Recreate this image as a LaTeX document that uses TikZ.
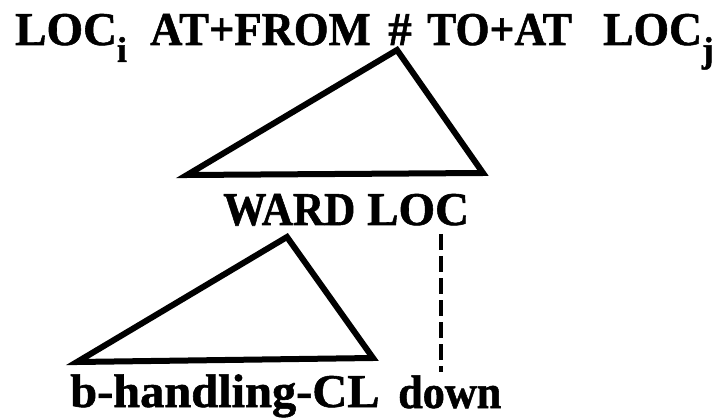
\documentclass[tikz,border=0pt]{standalone}
\usepackage{fontspec}
\setmainfont{Liberation Serif}
\newfontfamily\heavyfont{Liberation Serif Bold}[FakeBold=1.2]
\newcommand{\subsc}[1]{\raisebox{-17pt}{\fontsize{36}{36}\selectfont #1}}
\begin{document}
\begin{tikzpicture}[x=1pt,y=-1pt,
  lab/.style={font=\fontsize{47}{47}\heavyfont, inner sep=0pt, anchor=base west},
  tri/.style={line width=6pt, line join=miter},
  dashline/.style={line width=3.5pt, dash pattern=on 16pt off 6pt}]
\useasboundingbox (0,0) rectangle (719,419);
% top line
\node[lab] (loci) at (15,45) {LOC\subsc{i}};
\node[lab] (atfrom) at (150,45) {\scalebox{0.95}[1]{AT+FROM}};
\node[lab] (hash) at (388,45) {\#};
\node[lab] (toat) at (427,45) {\scalebox{0.93}[1]{TO+AT}};
\node[lab] (locj) at (603,45) {\scalebox{0.97}[1]{LOC\subsc{j}}};
% middle line
\node[lab] (ward) at (223,225) {\scalebox{0.92}[1]{WARD}};
\node[lab] (loc) at (367,225) {LOC};
% bottom line
\node[lab] (bh) at (70,407) {\scalebox{1.03}[1]{b-handling-CL}};
\node[lab] (down) at (398,408) {\scalebox{0.94}[1]{down}};
% triangle 1
\coordinate (t1a) at (397,50);
\coordinate (t1l) at (187,175);
\coordinate (t1r) at (483,173);
\draw[tri] (t1a) -- (t1l) -- (t1r) -- cycle;
% triangle 2
\coordinate (t2a) at (287,237);
\coordinate (t2l) at (77,362);
\coordinate (t2r) at (373,358);
\draw[tri] (t2a) -- (t2l) -- (t2r) -- cycle;
% dashed line
\coordinate (d1) at (441,234);
\coordinate (d2) at (441,372);
\draw[dashline] (d1) -- (d2);
\end{tikzpicture}
\end{document}
